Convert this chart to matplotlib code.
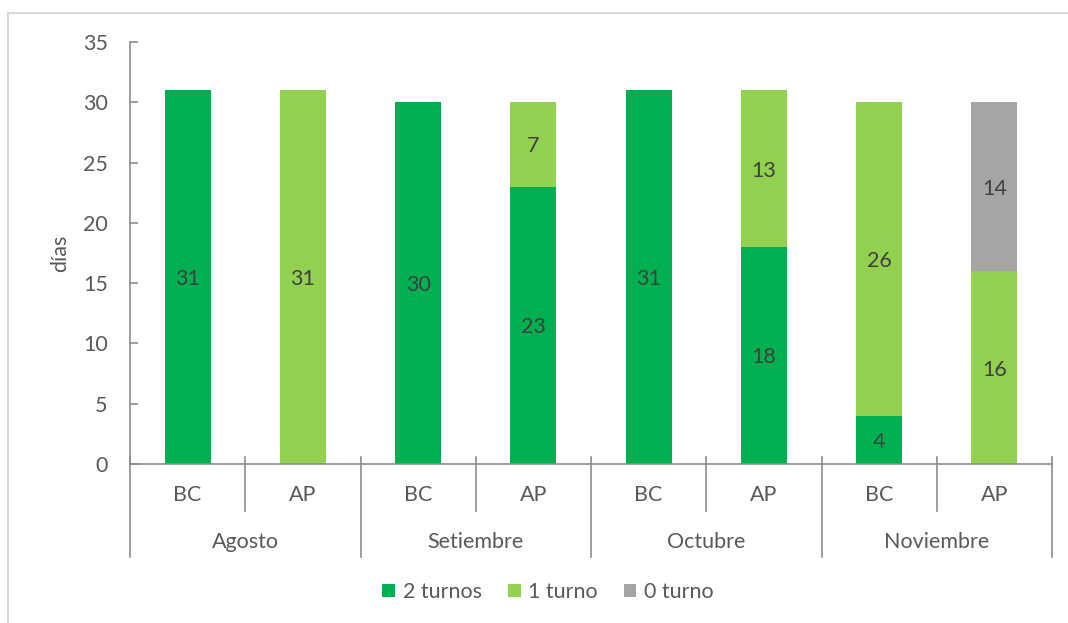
import matplotlib
matplotlib.use("Agg")
import matplotlib.pyplot as plt
from matplotlib.patches import Rectangle, Patch
import numpy as np

months = ["Agosto", "Setiembre", "Octubre", "Noviembre"]
groups = ["BC", "AP"]
series_names = ["2 turnos", "1 turno", "0 turno"]
# bar order: Agosto BC, Agosto AP, Setiembre BC, Setiembre AP, ...
dos_turnos = [31, 0, 30, 23, 31, 18, 4, 0]
un_turno = [0, 31, 0, 7, 0, 13, 26, 16]
cero_turno = [0, 0, 0, 0, 0, 0, 0, 14]
colors = ["#00B050", "#92D050", "#A5A5A5"]
yticks = [0, 5, 10, 15, 20, 25, 30, 35]

plt.rcParams["font.family"] = ["Lato", "DejaVu Sans"]
axis_color = "#8C8C8C"
text_color = "#595959"
label_color = "#404040"
fs = 15.5

fig = plt.figure(figsize=(10.68, 6.23), dpi=100)
W, H = 1068, 623
fig.patches.append(Rectangle((8 / W, -0.1), 1.2, 1 - 13 / H + 0.1,
                             transform=fig.transFigure, fill=False,
                             edgecolor="#D9D9D9", linewidth=1.5))

left, right, bottom, top = 130 / W, 1052 / W, 1 - 464 / H, 1 - 42 / H
ax = fig.add_axes([left, bottom, right - left, top - bottom])

n = len(dos_turnos)
x = np.arange(n) + 0.5
width = 0.4
base = np.zeros(n)
for vals, col in zip([dos_turnos, un_turno, cero_turno], colors):
    vals = np.array(vals, dtype=float)
    ax.bar(x, vals, width, bottom=base, color=col, zorder=2)
    for xi, b, v in zip(x, base, vals):
        if v > 0:
            ax.text(xi, b + v / 2, f"{int(v)}", ha="center", va="center_baseline",
                    fontsize=fs, color=label_color, zorder=3)
    base = base + vals

ax.set_xlim(0, n)
ax.set_ylim(0, 35)
ax.set_yticks(yticks)
ax.tick_params(axis="y", direction="in", length=6, width=1.2, color=axis_color,
               labelcolor=text_color, labelsize=fs, pad=16)
ax.set_xticks([])
for s in ["top", "right"]:
    ax.spines[s].set_visible(False)
for s in ["left", "bottom"]:
    ax.spines[s].set_color(axis_color)
    ax.spines[s].set_linewidth(1.2)
ax.set_ylabel("días", fontsize=fs, color=text_color)
ax.yaxis.set_label_coords(-60 / 922, 0.5)

# multi-level category axis
ppx = 422.0
trans = ax.get_xaxis_transform()
y0 = 7 / ppx
y_sub = -(511 - 464) / ppx
y_month = -(557 - 464) / ppx
for k in range(n + 1):
    ylow = y_month if k % 2 == 0 else y_sub
    ax.plot([k, k], [y0, ylow], transform=trans, color=axis_color,
            linewidth=1.2, clip_on=False, zorder=1)
for k in range(n):
    ax.text(k + 0.5, -(495 - 464) / ppx, groups[k % 2], transform=trans,
            ha="center", va="center", fontsize=fs, color=text_color)
for m, name in enumerate(months):
    ax.text(2 * m + 1, -(542 - 464) / ppx, name, transform=trans,
            ha="center", va="center", fontsize=fs, color=text_color)

handles = [Patch(facecolor=c, edgecolor="none") for c in colors]
fig.legend(handles, series_names, loc="center", bbox_to_anchor=(548 / W, 1 - 592 / H),
           ncol=3, frameon=False, fontsize=fs, labelcolor=text_color,
           handlelength=0.6, handleheight=0.6, handletextpad=0.35, columnspacing=1.2)

fig.savefig("out.png", dpi=100)
